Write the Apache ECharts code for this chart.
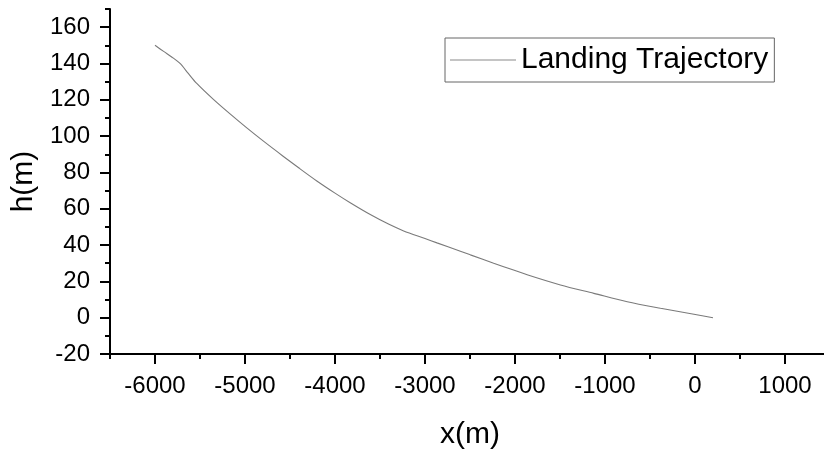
<!DOCTYPE html>
<html>
<head>
<meta charset="utf-8">
<script src="https://cdn.jsdelivr.net/npm/echarts@6/dist/echarts.min.js"></script>
<style>
html,body{margin:0;padding:0;background:#fff;}
#chart{width:824px;height:450px;}
</style>
</head>
<body>
<div id="chart"></div>
<script>
const seriesName = 'Landing Trajectory';
const xValues = [-6000, -5900, -5814, -5722, -5630, -5536, -5351, -5166, -4980, -4795, -4573, -4400, -4202, -4000, -3831, -3608, -3400, -3237, -3000, -2867, -2607, -2496, -2237, -2126, -1865, -1495, -1124, -753, -383, -12, 200];
const hValues = [150, 146.5, 143.6, 140, 134.5, 129, 120.2, 112.2, 104.5, 97.2, 88.8, 82.4, 75.3, 68.6, 63.3, 56.8, 51.4, 47.8, 43.6, 41.2, 36.6, 34.6, 30, 28.1, 23.6, 18, 13.4, 8.8, 5.2, 1.9, 0];
const xMajorTicks = [-6000, -5000, -4000, -3000, -2000, -1000, 0, 1000];
const xMinorTicks = [-6500, -5500, -4500, -3500, -2500, -1500, -500, 500, 1500];
const yMajorTicks = [-20, 0, 20, 40, 60, 80, 100, 120, 140, 160];
const yMinorTicks = [-10, 10, 30, 50, 70, 90, 110, 130, 150, 170];

const font = 'Liberation Sans, Arial, sans-serif';
const data = xValues.map((x, i) => [x, hValues[i]]);

const chart = echarts.init(document.getElementById('chart'), null, {renderer: 'canvas'});
const fmt = v => String(v);
chart.setOption({
  animation: false,
  backgroundColor: '#fff',
  grid: {left: 110, right: -6, top: 9, bottom: 96, containLabel: false, outerBoundsMode: 'none'},
  legend: {
    left: 445, top: 38,
    orient: 'horizontal',
    data: [{name: seriesName, icon: 'rect'}],
    itemWidth: 66, itemHeight: 1, itemGap: 10,
    itemStyle: {color: '#8a8a8a'},
    padding: [5, 6, 5, 5],
    borderColor: '#666', borderWidth: 1,
    textStyle: {fontFamily: font, fontSize: 30, color: '#000', lineHeight: 34}
  },
  xAxis: [
    {
      type: 'value', min: -6500, max: 1500, position: 'bottom',
      name: 'x(m)', nameLocation: 'middle', nameGap: 66,
      nameTextStyle: {fontFamily: font, fontSize: 30, color: '#000'},
      axisLine: {show: true, onZero: false, lineStyle: {color: '#000', width: 2}},
      axisTick: {show: true, customValues: xMajorTicks, length: 10, lineStyle: {color: '#000', width: 2}},
      axisLabel: {customValues: xMajorTicks, formatter: fmt, fontFamily: font, fontSize: 24, color: '#000', margin: 20},
      splitLine: {show: false}
    },
    {
      type: 'value', min: -6500, max: 1500, position: 'bottom',
      axisLine: {show: false, onZero: false},
      axisTick: {show: true, customValues: xMinorTicks, length: 5, lineStyle: {color: '#000', width: 2}},
      axisLabel: {show: false},
      splitLine: {show: false}
    }
  ],
  yAxis: [
    {
      type: 'value', min: -20, max: 170, position: 'left',
      name: 'h(m)', nameLocation: 'middle', nameGap: 70, nameRotate: 90,
      nameTextStyle: {fontFamily: font, fontSize: 30, color: '#000'},
      axisLine: {show: true, onZero: false, lineStyle: {color: '#000', width: 2}},
      axisTick: {show: true, customValues: yMajorTicks, length: 10, lineStyle: {color: '#000', width: 2}},
      axisLabel: {customValues: yMajorTicks, formatter: fmt, fontFamily: font, fontSize: 24, color: '#000', margin: 20},
      splitLine: {show: false}
    },
    {
      type: 'value', min: -20, max: 170, position: 'left',
      axisLine: {show: false, onZero: false},
      axisTick: {show: true, customValues: yMinorTicks, length: 5, lineStyle: {color: '#000', width: 2}},
      axisLabel: {show: false},
      splitLine: {show: false}
    }
  ],
  series: [{
    name: seriesName,
    type: 'line',
    xAxisIndex: 0, yAxisIndex: 0,
    data: data,
    smooth: 0.3,
    symbol: 'none',
    showSymbol: false,
    lineStyle: {color: '#7a7a7a', width: 1.1},
    itemStyle: {color: '#7a7a7a'}
  }]
});
</script>
</body>
</html>
